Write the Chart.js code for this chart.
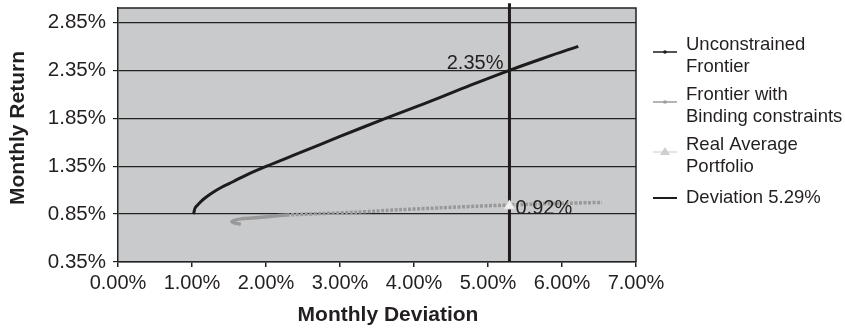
<!DOCTYPE html>
<html>
<head>
<meta charset="utf-8">
<script src="https://cdn.jsdelivr.net/npm/chart.js@4.4.1/dist/chart.umd.min.js"></script>
<style>
  html, body { margin: 0; padding: 0; background: #fff; }
  #wrap { width: 845px; height: 330px; }
</style>
</head>
<body>
<div id="wrap"><canvas id="frontierChart" width="845" height="330"></canvas></div>
<script>
// Unconstrained frontier (monthly deviation %, monthly return %)
const unconstrainedDev = [1.02, 1.03, 1.04, 1.07, 1.12, 1.18, 1.27, 1.40, 1.56, 1.74, 2.01, 2.46, 3.00, 3.59, 4.20, 4.75, 5.29, 5.80, 6.22];
const unconstrainedRet = [0.85, 0.88, 0.91, 0.94, 0.98, 1.02, 1.07, 1.13, 1.19, 1.26, 1.35, 1.49, 1.66, 1.84, 2.02, 2.19, 2.35, 2.49, 2.60];

// Frontier with binding constraints
const bindingDev = [1.66, 1.58, 1.54, 1.57, 1.66, 1.82, 2.05, 2.28, 2.73, 3.23, 3.80, 4.35, 4.85, 5.29, 5.90, 6.54];
const bindingRet = [0.745, 0.755, 0.77, 0.785, 0.80, 0.81, 0.825, 0.84, 0.855, 0.87, 0.895, 0.915, 0.932, 0.945, 0.96, 0.972];

// Real average portfolio
const realAvgDev = [5.29];
const realAvgRet = [0.935];

// Deviation 5.29% marker line
const deviationDev = [5.29, 5.29];
const deviationRet = [0.35, 3.05];

const xTicks = [0, 1, 2, 3, 4, 5, 6, 7];
const yTicks = [0.35, 0.85, 1.35, 1.85, 2.35, 2.85];

const seriesNames = [
    ['Unconstrained', 'Frontier'],
    ['Frontier with', 'Binding constraints'],
    ['Real Average', 'Portfolio'],
    ['Deviation 5.29%']
];
const crossLabels = ['2.35%', '0.92%'];
const crossValues = [2.35, 0.92];
const xTitle = 'Monthly Deviation';
const yTitle = 'Monthly Return';

const FONT = '"Liberation Sans", Arial, Helvetica, sans-serif';
const TEXT = '#231f20';

function toPoints(xs, ys) {
    return xs.map((x, i) => ({ x: x, y: ys[i] }));
}

// gray plot background + top/right border
const plotFrame = {
    id: 'plotFrame',
    beforeDraw(chart) {
        const a = chart.chartArea;
        const ctx = chart.ctx;
        ctx.save();
        ctx.fillStyle = '#c9cacc';
        ctx.fillRect(a.left, a.top, a.right - a.left, a.bottom - a.top);
        ctx.restore();
    },
    afterDraw(chart) {
        const a = chart.chartArea;
        const ctx = chart.ctx;
        ctx.save();
        ctx.strokeStyle = '#222';
        ctx.lineWidth = 1.5;
        ctx.beginPath();
        ctx.moveTo(a.left, a.top);
        ctx.lineTo(a.right, a.top);
        ctx.lineTo(a.right, a.bottom);
        ctx.stroke();
        ctx.restore();
    }
};

// axis titles (placed a little off-centre like the original)
const axisTitles = {
    id: 'axisTitles',
    afterDraw(chart) {
        const ctx = chart.ctx;
        const a = chart.chartArea;
        ctx.save();
        ctx.font = 'bold 21px ' + FONT;
        ctx.fillStyle = TEXT;
        ctx.textAlign = 'center';
        ctx.textBaseline = 'middle';
        ctx.fillText(xTitle, (a.left + a.right) / 2 + 11, 315);
        ctx.translate(18, (a.top + a.bottom) / 2 - 7);
        ctx.rotate(-Math.PI / 2);
        ctx.fillText(yTitle, 0, 0);
        ctx.restore();
    }
};

// value labels beside the 5.29% line
const crossText = {
    id: 'crossText',
    afterDraw(chart) {
        const ctx = chart.ctx;
        const xs = chart.scales.x, ys = chart.scales.y;
        const px = xs.getPixelForValue(deviationDev[0]);
        ctx.save();
        ctx.font = '20px ' + FONT;
        ctx.fillStyle = TEXT;
        ctx.textBaseline = 'alphabetic';
        ctx.textAlign = 'right';
        ctx.fillText(crossLabels[0], px - 6, ys.getPixelForValue(crossValues[0]) - 1);
        ctx.textAlign = 'left';
        ctx.textBaseline = 'middle';
        ctx.fillText(crossLabels[1], px + 6, ys.getPixelForValue(crossValues[1]) + 1);
        ctx.restore();
    }
};

// legend on the right with wrapped names
const sideLegend = {
    id: 'sideLegend',
    afterDraw(chart) {
        const ctx = chart.ctx;
        const rows = [45, 95, 145, 198];
        const x0 = 653, x1 = 677, tx = 686;
        ctx.save();
        ctx.font = '18.5px ' + FONT;
        ctx.textAlign = 'left';
        ctx.textBaseline = 'middle';
        chart.data.datasets.forEach((ds, i) => {
            const lines = seriesNames[i];
            const ly = lines.length > 1 ? rows[i] + 7 : rows[i];
            ctx.strokeStyle = ds.legendColor;
            ctx.lineWidth = ds.legendWidth;
            ctx.beginPath();
            ctx.moveTo(x0, ly);
            ctx.lineTo(x1, ly);
            ctx.stroke();
            const mx = (x0 + x1) / 2;
            ctx.fillStyle = ds.legendColor;
            if (ds.legendMark === 'dot') {
                ctx.beginPath();
                ctx.arc(mx, ly, 1.8, 0, Math.PI * 2);
                ctx.fill();
            } else if (ds.legendMark === 'square') {
                ctx.fillRect(mx - 1.5, ly - 1.5, 3, 3);
            } else if (ds.legendMark === 'triangle') {
                ctx.fillStyle = '#cfcfcf';
                ctx.beginPath();
                ctx.moveTo(mx, ly - 5);
                ctx.lineTo(mx + 5, ly + 3);
                ctx.lineTo(mx - 5, ly + 3);
                ctx.closePath();
                ctx.fill();
            }
            ctx.fillStyle = TEXT;
            lines.forEach((t, j) => ctx.fillText(t, tx, rows[i] + j * 22));
        });
        ctx.restore();
    }
};

const ctx = document.getElementById('frontierChart').getContext('2d');
new Chart(ctx, {
    type: 'scatter',
    data: {
        datasets: [{
            label: 'Unconstrained Frontier',
            data: toPoints(unconstrainedDev, unconstrainedRet),
            showLine: true,
            borderColor: '#1e1b1c',
            borderWidth: 3,
            pointRadius: 0,
            tension: 0.4,
            order: 1,
            legendColor: '#1e1b1c', legendWidth: 1.5, legendMark: 'dot'
        }, {
            label: 'Frontier with Binding constraints',
            data: toPoints(bindingDev, bindingRet),
            showLine: true,
            borderColor: '#999999',
            borderWidth: 3.5,
            pointRadius: 0,
            tension: 0.3,
            order: 2,
            segment: { borderDash: c => c.p0DataIndex < 7 ? [] : [3, 1.5] },
            legendColor: '#9b9b9b', legendWidth: 1.5, legendMark: 'square'
        }, {
            label: 'Real Average Portfolio',
            data: toPoints(realAvgDev, realAvgRet),
            pointStyle: 'triangle',
            pointRadius: 6,
            backgroundColor: '#f2f2f2',
            borderColor: '#dedede',
            borderWidth: 1,
            order: 0,
            legendColor: '#dcdcdc', legendWidth: 1.5, legendMark: 'triangle'
        }, {
            label: 'Deviation 5.29%',
            data: toPoints(deviationDev, deviationRet),
            showLine: true,
            borderColor: '#1e1b1c',
            borderWidth: 3,
            pointRadius: 0,
            clip: false,
            order: 3,
            legendColor: '#1e1b1c', legendWidth: 2, legendMark: 'none'
        }]
    },
    options: {
        responsive: false,
        animation: false,
        devicePixelRatio: 1,
        layout: { padding: { top: 8, right: 209, left: 0, bottom: 0 } },
        plugins: { legend: { display: false }, tooltip: { enabled: false } },
        scales: {
            x: {
                type: 'linear',
                min: 0, max: 7,
                afterBuildTicks: s => { s.ticks = xTicks.map(v => ({ value: v })); },
                afterFit: s => { s.height = 68; s.paddingLeft = 0; s.paddingRight = 0; },
                ticks: {
                    callback: v => v.toFixed(2) + '%',
                    font: { size: 20, family: FONT },
                    color: TEXT,
                    padding: 4,
                    maxRotation: 0,
                    autoSkip: false
                },
                grid: { drawOnChartArea: false, color: '#222', tickLength: 5, lineWidth: 1.5 },
                border: { color: '#222', width: 1.5 }
            },
            y: {
                type: 'linear',
                min: 0.35, max: 3.0,
                afterBuildTicks: s => { s.ticks = yTicks.map(v => ({ value: v })); },
                afterFit: s => { s.width = 118; s.paddingTop = 0; s.paddingBottom = 0; },
                ticks: {
                    callback: v => v.toFixed(2) + '%',
                    font: { size: 20.5, family: FONT },
                    color: TEXT,
                    padding: 7,
                    autoSkip: false
                },
                grid: { color: '#222', tickLength: 5, lineWidth: 1.2 },
                border: { color: '#222', width: 1.5 }
            }
        }
    },
    plugins: [plotFrame, crossText, sideLegend, axisTitles]
});
</script>
</body>
</html>
